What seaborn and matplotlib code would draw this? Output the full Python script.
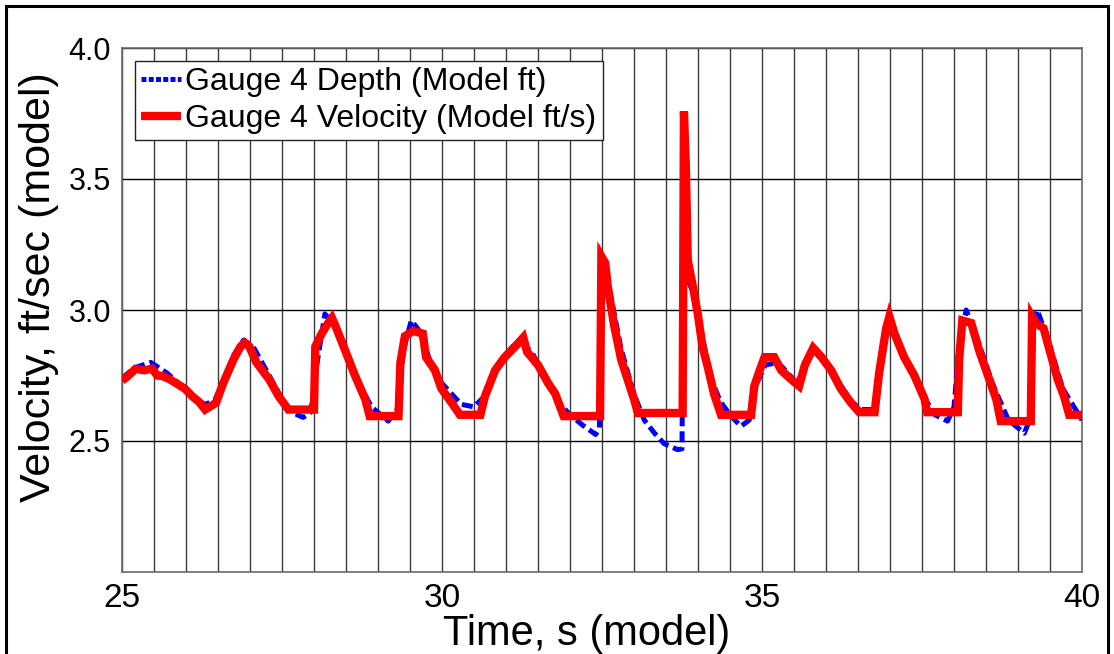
import matplotlib
matplotlib.use("Agg")
import matplotlib.pyplot as plt
from matplotlib.patches import Rectangle
from matplotlib.ticker import MultipleLocator
import pandas as pd
import seaborn as sns

# Gauge 4 velocity trace (model ft/s)
vel_time = [25.00, 25.10, 25.21, 25.35, 25.47, 25.55, 25.63, 25.75, 25.98, 26.10,
            26.20, 26.30, 26.40, 26.47, 26.58, 26.74, 26.85, 26.92, 26.99, 27.10,
            27.30, 27.45, 27.60, 28.00, 28.02, 28.12, 28.22, 28.28, 28.35, 28.48,
            28.64, 28.80, 28.87, 29.32, 29.35, 29.42, 29.55, 29.70, 29.75, 29.89,
            29.99, 30.15, 30.28, 30.60, 30.67, 30.83, 30.98, 31.14, 31.27, 31.33,
            31.50, 31.66, 31.77, 31.90, 32.47, 32.49, 32.55, 32.59, 32.69, 32.80,
            32.90, 33.00, 33.06, 33.76, 33.78, 33.81, 33.84, 33.92, 34.00, 34.07,
            34.15, 34.25, 34.36, 34.83, 34.88, 34.95, 35.04, 35.19, 35.30, 35.48,
            35.58, 35.67, 35.80, 35.93, 36.08, 36.23, 36.39, 36.52, 36.76, 36.83,
            36.94, 36.99, 37.07, 37.22, 37.38, 37.54, 37.58, 38.06, 38.08, 38.13,
            38.27, 38.40, 38.53, 38.66, 38.73, 39.20, 39.22, 39.28, 39.40, 39.49,
            39.62, 39.72, 39.80, 40.00]
vel_value = [2.73, 2.75, 2.775, 2.77, 2.776, 2.75, 2.748, 2.735, 2.70, 2.67,
             2.65, 2.62, 2.635, 2.646, 2.72, 2.81, 2.86, 2.875, 2.86, 2.80,
             2.735, 2.67, 2.62, 2.62, 2.86, 2.91, 2.95, 2.97, 2.93, 2.85,
             2.75, 2.66, 2.595, 2.595, 2.80, 2.90, 2.92, 2.91, 2.82, 2.77,
             2.70, 2.646, 2.60, 2.60, 2.67, 2.77, 2.82, 2.86, 2.895, 2.84,
             2.79, 2.72, 2.68, 2.595, 2.595, 3.205, 3.18, 3.09, 2.94, 2.81,
             2.735, 2.66, 2.607, 2.607, 3.758, 3.55, 3.19, 3.09, 2.98, 2.86,
             2.785, 2.68, 2.60, 2.60, 2.71, 2.76, 2.82, 2.82, 2.77, 2.73,
             2.71, 2.79, 2.855, 2.82, 2.77, 2.70, 2.646, 2.61, 2.61, 2.76,
             2.93, 2.975, 2.91, 2.82, 2.75, 2.66, 2.61, 2.61, 2.81, 2.96,
             2.95, 2.84, 2.75, 2.66, 2.576, 2.576, 2.975, 2.95, 2.93, 2.85,
             2.735, 2.67, 2.60, 2.60]

# Gauge 4 depth trace (model ft)
dep_time = [25.00, 25.20, 25.45, 25.70, 25.98, 26.15, 26.30, 26.45, 26.60, 26.75,
            26.90, 27.05, 27.30, 27.50, 27.65, 27.83, 27.95, 28.05, 28.17, 28.30,
            28.50, 28.70, 28.90, 29.16, 29.30, 29.40, 29.52, 29.65, 29.85, 30.00,
            30.30, 30.50, 30.70, 30.90, 31.10, 31.22, 31.40, 31.60, 31.85, 32.00,
            32.20, 32.40, 32.46, 32.50, 32.60, 32.80, 33.00, 33.16, 33.32, 33.47,
            33.68, 33.75, 33.77, 33.82, 33.95, 34.05, 34.20, 34.35, 34.50, 34.67,
            34.80, 34.90, 35.05, 35.25, 35.55, 35.80, 36.10, 36.40, 36.55, 36.75,
            36.90, 37.02, 37.25, 37.50, 37.70, 37.90, 38.00, 38.08, 38.19, 38.35,
            38.60, 38.85, 39.10, 39.18, 39.25, 39.30, 39.45, 39.70, 40.00]
dep_value = [2.74, 2.78, 2.80, 2.76, 2.70, 2.66, 2.64, 2.655, 2.74, 2.83,
             2.885, 2.86, 2.75, 2.66, 2.61, 2.59, 2.61, 2.80, 2.985, 2.95,
             2.84, 2.72, 2.63, 2.576, 2.62, 2.85, 2.96, 2.92, 2.78, 2.72,
             2.64, 2.63, 2.68, 2.80, 2.86, 2.88, 2.84, 2.75, 2.64, 2.60,
             2.56, 2.525, 2.55, 3.21, 3.10, 2.85, 2.68, 2.58, 2.53, 2.49,
             2.467, 2.47, 3.17, 3.13, 3.05, 2.92, 2.74, 2.65, 2.60, 2.556,
             2.58, 2.71, 2.79, 2.80, 2.72, 2.85, 2.76, 2.65, 2.62, 2.62,
             2.88, 2.94, 2.81, 2.68, 2.60, 2.576, 2.63, 2.86, 3.00, 2.90,
             2.72, 2.58, 2.53, 2.58, 2.96, 3.00, 2.90, 2.70, 2.58]

x_ticks = [25, 30, 35, 40]
y_ticks = [2.5, 3.0, 3.5, 4.0]
x_label = "Time, s (model)"
y_label = "Velocity, ft/sec (model)"
depth_name = "Gauge 4 Depth (Model ft)"
vel_name = "Gauge 4 Velocity (Model ft/s)"

sns.set_theme(style="white")
plt.rcParams["font.family"] = ["Liberation Sans", "DejaVu Sans"]
plt.rcParams["text.color"] = "black"
plt.rcParams["axes.labelcolor"] = "black"
plt.rcParams["xtick.color"] = "black"
plt.rcParams["ytick.color"] = "black"

fig = plt.figure(figsize=(11.14, 6.54), dpi=100)
ax = fig.add_axes([122 / 1114, 1 - 572 / 654, 960 / 1114, 524 / 654])

depth_df = pd.DataFrame({"t": dep_time, "v": dep_value})
vel_df = pd.DataFrame({"t": vel_time, "v": vel_value})

sns.lineplot(data=depth_df, x="t", y="v", ax=ax, sort=False, estimator=None,
             color="#0000ff", linewidth=3.6, label=depth_name, zorder=3)
depth_line = ax.lines[-1]
depth_line.set_dashes([2.2, 1.0])
depth_line.set_dash_capstyle("butt")

sns.lineplot(data=vel_df, x="t", y="v", ax=ax, sort=False, estimator=None,
             color="#ff0000", linewidth=6.0, label=vel_name, zorder=4)
vel_line = ax.lines[-1]
vel_line.set_solid_capstyle("butt")
vel_line.set_solid_joinstyle("miter")

ax.set_xlim(25, 40)
ax.set_ylim(2.0, 4.0)
ax.set_xticks(x_ticks)
ax.xaxis.set_minor_locator(MultipleLocator(0.5))
ax.set_yticks(y_ticks)
ax.set_yticklabels([f"{v:.1f}" for v in y_ticks])
ax.tick_params(axis="both", which="both", length=0, colors="black")
ax.tick_params(axis="y", labelsize=22, pad=8)
ax.tick_params(axis="x", labelsize=24, pad=8)

ax.grid(True, axis="x", which="both", color="#3a3a3a", linewidth=1.0)
ax.grid(True, axis="y", which="major", color="#000000", linewidth=1.0)
ax.set_axisbelow(True)
for s in ax.spines.values():
    s.set_color("#6a6a6a")
    s.set_linewidth(1.2)

ax.set_xlabel(x_label, fontsize=30)
ax.set_ylabel(y_label, fontsize=31)
ax.xaxis.set_label_coords(0.484, -0.08)
ax.yaxis.set_label_coords(-0.066, 0.544)

leg = ax.legend(loc="upper left", bbox_to_anchor=(13 / 960, 1 - 13 / 524),
                fontsize=23, frameon=True, fancybox=False, borderaxespad=0,
                handlelength=1.25, handletextpad=0.12, borderpad=0.2,
                labelspacing=0.2)
frame = leg.get_frame()
frame.set_edgecolor("#222222")
frame.set_linewidth(1.0)
frame.set_facecolor("white")
frame.set_alpha(1.0)
leg.legend_handles[0].set_dashes([1.0, 0.45])
leg.legend_handles[0].set_dash_capstyle("butt")
leg.legend_handles[1].set_solid_capstyle("butt")

# outer border of the figure
fig.patches.append(Rectangle((6 / 1114, -0.05), 1102 / 1114, 1 - 6 / 654 + 0.05,
                             transform=fig.transFigure, fill=False,
                             edgecolor="black", linewidth=2.2))

fig.savefig("out.png", dpi=100)
